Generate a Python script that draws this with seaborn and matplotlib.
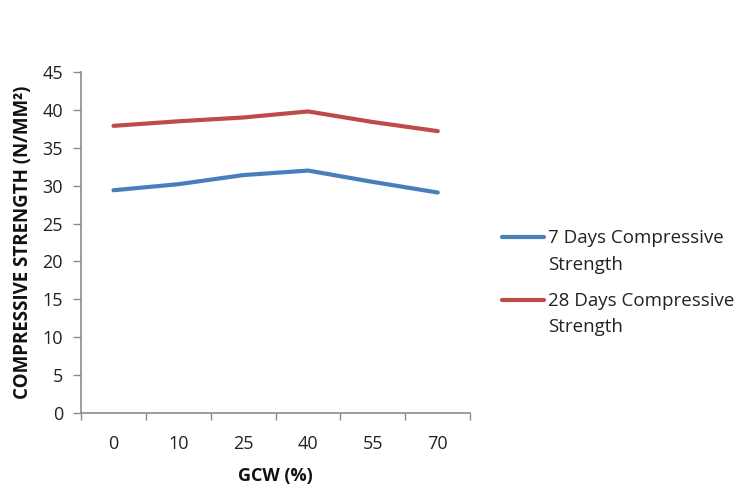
import numpy as np
import pandas as pd
import matplotlib
matplotlib.use("Agg")
import matplotlib.pyplot as plt
from matplotlib.ticker import FixedLocator
import seaborn as sns

gcw = ["0", "10", "25", "40", "55", "70"]
strength_7d = [29.4, 30.2, 31.4, 32.0, 30.5, 29.1]
strength_28d = [37.9, 38.5, 39.0, 39.8, 38.4, 37.2]
series_names = ["7 Days Compressive\nStrength", "28 Days Compressive\nStrength"]
colors = ["#4A7EBB", "#BE4B48"]

df = pd.DataFrame({
    "GCW": gcw * 2,
    "Strength": strength_7d + strength_28d,
    "Series": [series_names[0]] * len(gcw) + [series_names[1]] * len(gcw),
})

sns.set_theme(style="white")
plt.rcParams["font.family"] = ["Open Sans", "DejaVu Sans"]

fig = plt.figure(figsize=(7.37, 4.9), dpi=100)
ax = fig.add_axes([0.110, 0.157, 0.528, 0.696])

sns.lineplot(data=df, x="GCW", y="Strength", hue="Series",
             palette=colors, linewidth=3.0, ax=ax, sort=False)

ax.set_ylim(0, 45)
ax.set_yticks(np.arange(0, 46, 5))
ax.set_xlim(-0.5, len(gcw) - 0.5)
ax.set_xticks(range(len(gcw)))
ax.set_xticklabels(gcw)
ax.xaxis.set_minor_locator(FixedLocator(np.arange(-0.5, len(gcw), 1.0)))

ax.tick_params(axis="x", which="major", length=0, pad=16, labelsize=13, colors="#222222")
ax.tick_params(axis="x", which="minor", length=5, width=1, color="#8c8c8c", bottom=True)
ax.tick_params(axis="y", which="major", length=6, width=1, color="#8c8c8c",
               left=True, pad=7, labelsize=13, labelcolor="#222222")

for side in ["top", "right"]:
    ax.spines[side].set_visible(False)
for side in ["left", "bottom"]:
    ax.spines[side].set_color("#8c8c8c")
    ax.spines[side].set_linewidth(1.2)

ax.set_xlabel("GCW (%)", fontsize=13, fontweight="bold", labelpad=10, color="#111111")
ax.set_ylabel("COMPRESSIVE STRENGTH (N/MM²)", fontsize=13.5, fontweight="bold",
              labelpad=7, color="#111111")

leg = ax.legend(loc="upper left", bbox_to_anchor=(0.681, 0.532),
                bbox_transform=fig.transFigure, frameon=False, borderpad=0,
                borderaxespad=0, fontsize=13.5, handlelength=2.25,
                handletextpad=0.2, labelspacing=0.95)
for text in leg.get_texts():
    text.set_linespacing(1.6)
    text.set_color("#222222")
# put each key line beside the first line of its two-line label
for line in leg.get_lines():
    line.set_linewidth(3.0)
    line.set_ydata(np.asarray(line.get_ydata(), dtype=float) + 10.5)

fig.savefig("out.png", dpi=100, facecolor="white")
